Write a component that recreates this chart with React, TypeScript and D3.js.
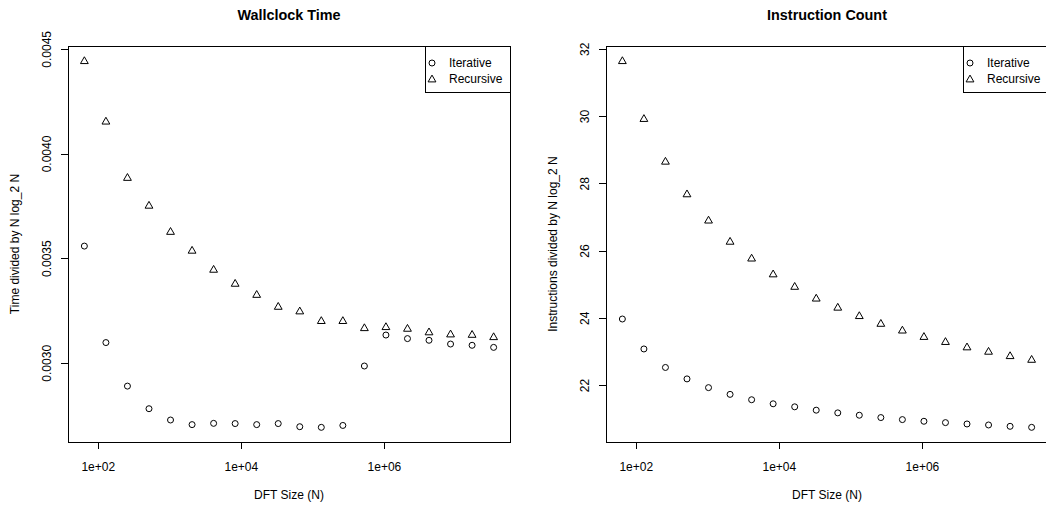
import React from "react";
import * as d3 from "d3";

// DFT sizes: powers of two from 2^6 to 2^25
const exponents = [6, 7, 8, 9, 10, 11, 12, 13, 14, 15, 16, 17, 18, 19, 20, 21, 22, 23, 24, 25];
const sizes = exponents.map((e) => Math.pow(2, e));

// Wallclock time divided by N log2 N
const wallIterative = [
  0.00356, 0.003099, 0.002891, 0.002783, 0.002729, 0.002707, 0.002713, 0.002712, 0.002707, 0.002712,
  0.002697, 0.002694, 0.002703, 0.002987, 0.003135, 0.003118, 0.00311, 0.003092, 0.003086, 0.003076,
];
const wallRecursive = [
  0.004446, 0.004157, 0.003888, 0.003755, 0.00363, 0.00354, 0.003449, 0.003382, 0.003329, 0.003272,
  0.00325, 0.003204, 0.003204, 0.00317, 0.003175, 0.003167, 0.00315, 0.00314, 0.003138, 0.003127,
];

// Instruction count divided by N log2 N
const instrIterative = [
  23.98, 23.09, 22.54, 22.2, 21.94, 21.74, 21.58, 21.46, 21.37, 21.27,
  21.19, 21.12, 21.05, 20.99, 20.94, 20.9, 20.86, 20.83, 20.79, 20.76,
];
const instrRecursive = [
  31.66, 29.94, 28.67, 27.7, 26.92, 26.29, 25.79, 25.32, 24.95, 24.6,
  24.33, 24.08, 23.85, 23.65, 23.46, 23.31, 23.15, 23.02, 22.89, 22.78,
];

const xTicks = [1e2, 1e4, 1e6];
const xTickLabels = ["1e+02", "1e+04", "1e+06"];
const wallYTicks = [0.003, 0.0035, 0.004, 0.0045];
const wallYTickLabels = ["0.0030", "0.0035", "0.0040", "0.0045"];
const instrYTicks = [22, 24, 26, 28, 30, 32];
const instrYTickLabels = ["22", "24", "26", "28", "30", "32"];
const legendLabels = ["Iterative", "Recursive"];

const FONT = "'Liberation Sans', Arial, Helvetica, sans-serif";

// extend a range by 4% on each side, as R's default axis style does
function padded(lo: number, hi: number): [number, number] {
  const r = hi - lo;
  return [lo - 0.04 * r, hi + 0.04 * r];
}

function Triangle({ x, y }: { x: number; y: number }) {
  const p = `M${x},${y - 3.9}L${x + 3.9},${y + 2.9}L${x - 3.9},${y + 2.9}Z`;
  return <path d={p} fill="none" stroke="#000" strokeWidth={1} />;
}

function Circle({ x, y }: { x: number; y: number }) {
  return <circle cx={x} cy={y} r={3} fill="none" stroke="#000" strokeWidth={1} />;
}

type PanelProps = {
  left: number;
  title: string;
  yLabel: string;
  iterative: number[];
  recursive: number[];
  yTicks: number[];
  yTickLabels: string[];
};

function Panel({ left, title, yLabel, iterative, recursive, yTicks, yTickLabels }: PanelProps) {
  const top = 46;
  const bottom = 442;
  const right = left + 442;

  const [lx0, lx1] = padded(Math.log10(sizes[0]), Math.log10(sizes[sizes.length - 1]));
  const x = d3.scaleLog().domain([Math.pow(10, lx0), Math.pow(10, lx1)]).range([left, right]);

  const all = iterative.concat(recursive);
  const [y0, y1] = padded(d3.min(all) as number, d3.max(all) as number);
  const y = d3.scaleLinear().domain([y0, y1]).range([bottom, top]);

  const cx = (left + right) / 2;
  const cy = (top + bottom) / 2;
  const tick = 7;

  const legW = 85;
  const legH = 46;
  const legX = right - legW;
  const legY = top;

  return (
    <g fontFamily={FONT} fill="#000">
      <text x={cx} y={19.5} textAnchor="middle" fontWeight="bold" fontSize={14.4}>
        {title}
      </text>

      {/* plot box */}
      <rect x={left} y={top} width={right - left} height={bottom - top} fill="none" stroke="#000" strokeWidth={1} shapeRendering="crispEdges" />

      {/* x axis */}
      <line x1={x(xTicks[0])} x2={x(xTicks[xTicks.length - 1])} y1={bottom} y2={bottom} stroke="#000" shapeRendering="crispEdges" />
      {xTicks.map((t, i) => (
        <g key={"xt" + i}>
          <line x1={x(t)} x2={x(t)} y1={bottom} y2={bottom + tick} stroke="#000" shapeRendering="crispEdges" />
          <text x={x(t)} y={470.5} textAnchor="middle" fontSize={12}>
            {xTickLabels[i]}
          </text>
        </g>
      ))}
      <text x={cx} y={499} textAnchor="middle" fontSize={12}>
        DFT Size (N)
      </text>

      {/* y axis */}
      <line x1={left} x2={left} y1={y(yTicks[0])} y2={y(yTicks[yTicks.length - 1])} stroke="#000" shapeRendering="crispEdges" />
      {yTicks.map((t, i) => (
        <g key={"yt" + i}>
          <line x1={left - tick} x2={left} y1={y(t)} y2={y(t)} stroke="#000" shapeRendering="crispEdges" />
          <text
            transform={`translate(${left - 17.5},${y(t)}) rotate(-90)`}
            textAnchor="middle"
            fontSize={12}
          >
            {yTickLabels[i]}
          </text>
        </g>
      ))}
      <text transform={`translate(${left - 49},${cy}) rotate(-90)`} textAnchor="middle" fontSize={12}>
        {yLabel}
      </text>

      {/* points */}
      {iterative.map((v, i) => (
        <Circle key={"it" + i} x={x(sizes[i])} y={y(v)} />
      ))}
      {recursive.map((v, i) => (
        <Triangle key={"rc" + i} x={x(sizes[i])} y={y(v)} />
      ))}

      {/* legend */}
      <rect x={legX} y={legY} width={legW} height={legH} fill="#fff" stroke="#000" strokeWidth={1} shapeRendering="crispEdges" />
      <Circle x={legX + 7} y={legY + 17} />
      <text x={legX + 24} y={legY + 21.3} fontSize={12}>
        {legendLabels[0]}
      </text>
      <Triangle x={legX + 7} y={legY + 33} />
      <text x={legX + 24} y={legY + 37.3} fontSize={12}>
        {legendLabels[1]}
      </text>
    </g>
  );
}

export default function App() {
  return (
    <svg
      width={1046}
      height={510}
      style={{ position: "absolute", left: 0, top: 0, display: "block", background: "#fff" }}
    >
      <rect x={0} y={0} width={1046} height={510} fill="#fff" />
      <Panel
        left={68}
        title="Wallclock Time"
        yLabel="Time divided by N log_2 N"
        iterative={wallIterative}
        recursive={wallRecursive}
        yTicks={wallYTicks}
        yTickLabels={wallYTickLabels}
      />
      <Panel
        left={606}
        title="Instruction Count"
        yLabel="Instructions divided by N log_2 N"
        iterative={instrIterative}
        recursive={instrRecursive}
        yTicks={instrYTicks}
        yTickLabels={instrYTickLabels}
      />
    </svg>
  );
}
